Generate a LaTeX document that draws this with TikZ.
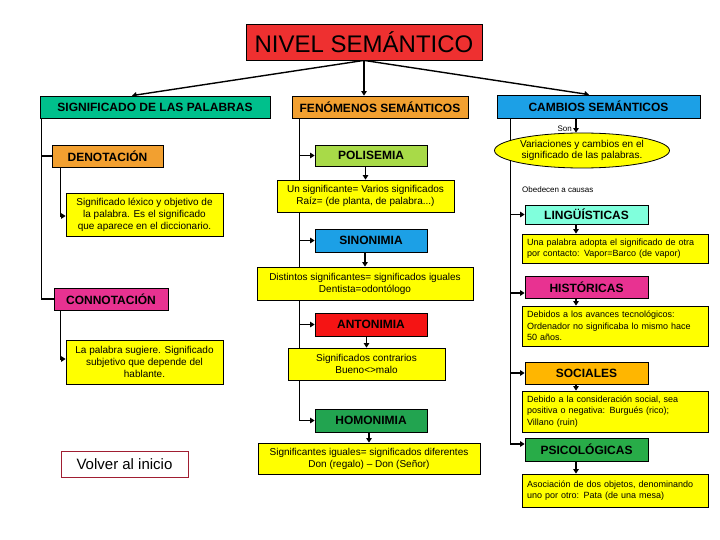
\documentclass[tikz,border=0pt]{standalone}
\usepackage{fontspec}
\setmainfont{Liberation Sans}
\usetikzlibrary{shapes.geometric,arrows.meta,backgrounds}
\definecolor{titlered}{RGB}{238,48,48}
\definecolor{teal1}{RGB}{0,192,140}
\definecolor{orange1}{RGB}{242,160,48}
\definecolor{blue1}{RGB}{28,160,230}
\definecolor{magenta1}{RGB}{232,50,145}
\definecolor{lime1}{RGB}{168,218,72}
\definecolor{red1}{RGB}{245,20,20}
\definecolor{green1}{RGB}{34,164,80}
\definecolor{aqua1}{RGB}{128,255,220}
\definecolor{gold1}{RGB}{255,182,0}
\definecolor{green2}{RGB}{40,172,72}
\definecolor{noteyellow}{RGB}{255,255,0}
\definecolor{darkred1}{RGB}{160,30,50}
\begin{document}
\begin{tikzpicture}[x=1pt,y=-1pt,
  box/.style={draw=black, line width=0.8pt, inner sep=0pt, align=center,
    font=\bfseries\fontsize{12}{14}\selectfont},
  note/.style={draw=black, fill=noteyellow, line width=0.8pt, inner sep=0pt,
    align=center, font=\fontsize{10}{12}\selectfont},
  rnote/.style={draw=black, fill=noteyellow, line width=0.8pt, inner ysep=0pt,
    inner xsep=5pt, align=left, text width=176pt, minimum width=186pt,
    font=\fontsize{9}{11.5}\selectfont},
  arr/.style={line width=1.4pt, -{Triangle[length=4.5pt,width=5.5pt]}},
  ln/.style={line width=1.4pt}]
\useasboundingbox (0,0) rectangle (720,540);

% title
\node[draw=black, line width=0.8pt, fill=titlered, minimum width=236pt, minimum height=36pt,
  inner sep=0pt, font=\fontsize{24}{28}\selectfont] (title) at (364,42) {NIVEL SEMÁNTICO};

% headers
\node[box, fill=teal1, minimum width=230pt, minimum height=22pt] (sig) at (155,107) {SIGNIFICADO DE LAS PALABRAS};
\node[box, fill=orange1, minimum width=176pt, minimum height=22pt] (fen) at (380,107) {FENÓMENOS SEMÁNTICOS};
\node[box, fill=blue1, minimum width=203pt, minimum height=23pt] (cam) at (598.5,106.5) {CAMBIOS SEMÁNTICOS};

% left column
\node[box, fill=orange1, minimum width=111pt, minimum height=22pt] (den) at (107.5,156) {DENOTACIÓN};
\node[note, minimum width=157pt, minimum height=43pt] (deny) at (144.5,214.5)
  {Significado léxico y objetivo de\\la palabra. Es el significado\\que aparece en el diccionario.};
\node[box, fill=magenta1, minimum width=114pt, minimum height=22pt] (con) at (111,299) {CONNOTACIÓN};
\node[note, minimum width=157pt, minimum height=44pt] (cony) at (144.5,362)
  {La palabra sugiere. Significado\\subjetivo que depende del\\hablante.};
\node[draw=darkred1, line width=1pt, fill=white, minimum width=127pt, minimum height=26pt,
  inner sep=0pt, font=\fontsize{15}{18}\selectfont] (volver) at (124.5,464) {Volver al inicio};

% middle column
\node[box, fill=lime1, minimum width=112pt, minimum height=21pt] (pol) at (371,155.5) {POLISEMIA};
\node[note, minimum width=177pt, minimum height=32pt] (poly) at (365.5,196)
  {Un significante= Varios significados\\Raíz= (de planta, de palabra...)};
\node[box, fill=blue1, minimum width=112pt, minimum height=23pt] (sin) at (371,240.5) {SINONIMIA};
\node[note, minimum width=216pt, minimum height=33pt] (siny) at (365,283.5)
  {Distintos significantes= significados iguales\\Dentista=odontólogo};
\node[box, fill=red1, minimum width=112pt, minimum height=23pt] (ant) at (371,324.5) {ANTONIMIA};
\node[note, minimum width=157pt, minimum height=32pt] (anty) at (366.5,364)
  {Significados contrarios\\Bueno<>malo};
\node[box, fill=green1, minimum width=112pt, minimum height=23pt] (hom) at (371,420.5) {HOMONIMIA};
\node[note, minimum width=222pt, minimum height=31pt] (homy) at (369,458.5)
  {Significantes iguales= significados diferentes\\Don (regalo) – Don (Señor)};

% right column
\node[draw=black, fill=noteyellow, line width=0.8pt, ellipse, inner sep=0pt,
  minimum width=170pt, minimum height=35pt, align=center,
  font=\fontsize{10}{11.5}\selectfont] (ell) at (582,150.5)
  {Variaciones y cambios en el\\significado de las palabras.};
\node[anchor=east, inner sep=0pt, font=\fontsize{8}{9}\selectfont] (son) at (572,129) {Son};
\node[anchor=west, inner sep=0pt, font=\fontsize{8}{9}\selectfont] (obe) at (522,189.5) {Obedecen a causas};
\node[box, fill=aqua1, minimum width=123pt, minimum height=19pt] (ling) at (586.5,214.5) {LINGÜÍSTICAS};
\node[rnote, minimum height=29pt] (lingy) at (615,248.5)
  {Una palabra adopta el significado de otra\\por contacto: Vapor=Barco (de vapor)};
\node[box, fill=magenta1, minimum width=123pt, minimum height=22pt] (hist) at (586.5,287) {HISTÓRICAS};
\node[rnote, minimum height=40pt] (histy) at (615,326)
  {Debidos a los avances tecnológicos:\\Ordenador no significaba lo mismo hace\\50 años.};
\node[box, fill=gold1, minimum width=123pt, minimum height=22pt] (soc) at (586.5,373) {SOCIALES};
\node[rnote, minimum height=41pt] (socy) at (615,411.5)
  {Debido a la consideración social, sea\\positiva o negativa: Burgués (rico);\\Villano (ruin)};
\node[box, fill=green2, minimum width=123pt, minimum height=23pt] (psi) at (586.5,449.5) {PSICOLÓGICAS};
\node[rnote, minimum height=33pt] (psiy) at (615,490.5)
  {Asociación de dos objetos, denominando\\uno por otro: Pata (de una mesa)};

\begin{scope}[on background layer]
% title connectors
\draw[arr] (title.south) -- ([xshift=-23pt]sig.north);
\draw[arr] (title.south) -- (title.south |- fen.north);
\draw[arr] (title.south) -- ([xshift=-9.5pt]cam.north);

% left connectors
\coordinate (L0) at ([xshift=2pt]sig.south west);
\draw[ln] (L0) |- (con.west);
\draw[ln] (L0 |- den.west) -- (den.west);
\coordinate (Ld) at ([xshift=9pt]den.south west);
\draw[arr] (Ld) |- ([yshift=-1.5pt]deny.west);
\coordinate (Lc) at ([xshift=7pt]con.south west);
\draw[arr] (Lc) |- ([yshift=3pt]cony.west);

% middle connectors
\coordinate (M0) at ([xshift=8pt]fen.south west);
\draw[arr] (M0) |- (hom.west);
\draw[arr] (M0 |- pol.west) -- (pol.west);
\draw[arr] (M0 |- sin.west) -- (sin.west);
\draw[arr] (M0 |- ant.west) -- (ant.west);
\draw[arr] (poly.north |- pol.south) -- (poly.north);
\draw[arr] (siny.north |- sin.south) -- (siny.north);
\draw[arr] (anty.north |- ant.south) -- (anty.north);
\draw[arr] (homy.north |- hom.south) -- (homy.north);

% right connectors
\coordinate (R0) at ([xshift=14pt]cam.south west);
\coordinate (ax) at (576,0);
\draw[arr] (R0) |- ([yshift=5.5pt]psi.west);
\draw[arr] (R0 |- ling.west) -- (ling.west);
\draw[arr] (R0 |- hist.west) ++(0,6) -- ([yshift=-6pt]hist.west);
\draw[arr] (R0 |- soc.west) -- (soc.west);
\draw[arr] (cam.south -| ax) -- (ell.north -| ax);
\draw[arr] (ling.south -| ax) -- (lingy.north -| ax);
\draw[arr] (hist.south -| ax) -- (histy.north -| ax);
\draw[arr] (soc.south -| ax) -- (socy.north -| ax);
\draw[arr] (psi.south -| ax) -- (psiy.north -| ax);
\end{scope}
\end{tikzpicture}
\end{document}
